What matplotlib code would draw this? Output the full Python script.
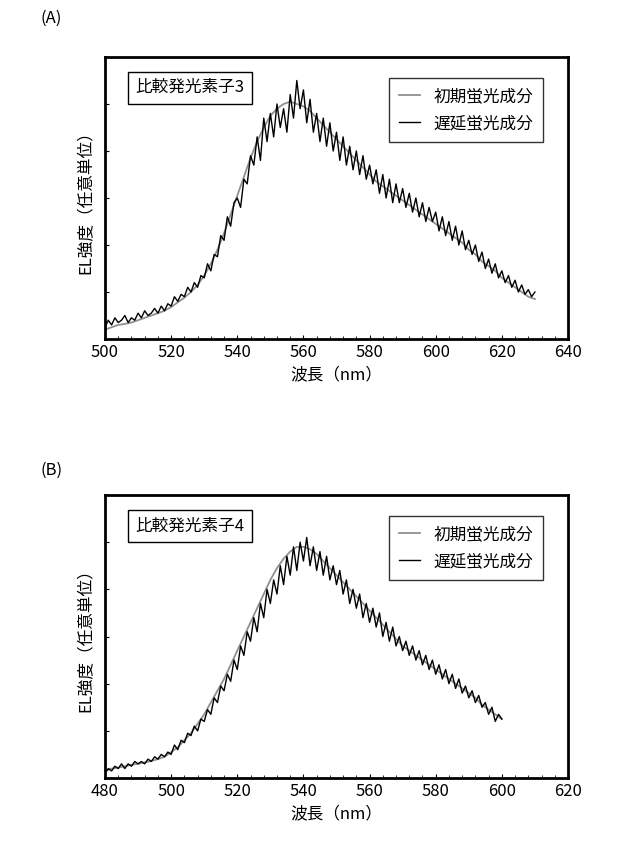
import numpy as np
import matplotlib
matplotlib.use("Agg")
import matplotlib.pyplot as plt
from matplotlib.ticker import MultipleLocator

plt.rcParams["font.family"] = "Noto Sans CJK JP"

# Panel A: 比較発光素子3
wl_a_delayed = np.arange(500, 631, 1)
delayed_a = [
    0.25, 0.4, 0.3, 0.45, 0.35, 0.4, 0.5, 0.35, 0.45, 0.4,
    0.55, 0.45, 0.6, 0.5, 0.55, 0.65, 0.55, 0.7, 0.6, 0.75,
    0.7, 0.9, 0.8, 0.95, 0.9, 1.1, 1.0, 1.2, 1.1, 1.35,
    1.3, 1.6, 1.45, 1.8, 1.75, 2.2, 2.1, 2.6, 2.4, 2.9,
    3.0, 2.8, 3.4, 3.3, 3.9, 3.7, 4.3, 3.8, 4.7, 4.2,
    4.8, 4.3, 5.0, 4.5, 4.9, 4.4, 5.2, 4.7, 5.5, 4.9,
    5.3, 4.6, 5.1, 4.4, 4.8, 4.2, 4.7, 4.1, 4.6, 4.0,
    4.4, 3.8, 4.3, 3.7, 4.1, 3.6, 4.0, 3.5, 3.9, 3.4,
    3.7, 3.3, 3.6, 3.1, 3.5, 3.0, 3.4, 2.9, 3.3, 2.9,
    3.2, 2.8, 3.1, 2.7, 3.0, 2.6, 2.9, 2.5, 2.8, 2.5,
    2.7, 2.3, 2.6, 2.2, 2.5, 2.1, 2.4, 2.0, 2.3, 1.9,
    2.1, 1.8, 2.0, 1.65, 1.85, 1.5, 1.7, 1.4, 1.6, 1.3,
    1.45, 1.2, 1.35, 1.1, 1.25, 1.0, 1.15, 0.95, 1.05, 0.9,
    1.0,
]
wl_a_prompt = np.arange(500, 631, 2)
prompt_a = [
    0.2, 0.25, 0.3, 0.32, 0.35, 0.4, 0.45, 0.5, 0.55, 0.6,
    0.68, 0.78, 0.88, 1.0, 1.15, 1.35, 1.6, 1.9, 2.25, 2.65,
    3.05, 3.45, 3.85, 4.2, 4.5, 4.75, 4.9, 5.0, 5.05, 5.0,
    4.95, 4.85, 4.7, 4.55, 4.4, 4.25, 4.1, 3.95, 3.8, 3.65,
    3.5, 3.35, 3.25, 3.15, 3.05, 2.95, 2.85, 2.75, 2.65, 2.55,
    2.45, 2.35, 2.25, 2.15, 2.05, 1.9, 1.8, 1.65, 1.55, 1.45,
    1.3, 1.2, 1.1, 1.0, 0.9,
    0.85,
]

# Panel B: 比較発光素子4
wl_b_delayed = np.arange(480, 601, 1)
delayed_b = [
    0.1, 0.2, 0.15, 0.25, 0.2, 0.3, 0.2, 0.3, 0.25, 0.35,
    0.3, 0.35, 0.3, 0.4, 0.35, 0.45, 0.4, 0.5, 0.45, 0.55,
    0.5, 0.7, 0.6, 0.8, 0.75, 0.95, 0.9, 1.1, 1.0, 1.25,
    1.2, 1.45, 1.35, 1.7, 1.6, 1.95, 1.85, 2.2, 2.05, 2.5,
    2.3, 2.8, 2.6, 3.1, 2.9, 3.4, 3.1, 3.7, 3.4, 4.0,
    3.7, 4.2, 3.9, 4.5, 4.1, 4.7, 4.3, 4.9, 4.4, 5.0,
    4.6, 5.1, 4.5, 4.9, 4.4, 4.8, 4.3, 4.7, 4.2, 4.5,
    4.1, 4.4, 3.9, 4.2, 3.7, 4.0, 3.6, 3.9, 3.4, 3.7,
    3.3, 3.6, 3.2, 3.5, 3.0, 3.3, 2.9, 3.2, 2.8, 3.0,
    2.7, 2.9, 2.6, 2.8, 2.5, 2.7, 2.4, 2.6, 2.3, 2.5,
    2.2, 2.4, 2.1, 2.3, 2.0, 2.2, 1.9, 2.1, 1.8, 1.95,
    1.7, 1.85, 1.6, 1.75, 1.5, 1.6, 1.35, 1.5, 1.2, 1.35,
    1.25,
]
wl_b_prompt = np.arange(480, 601, 2)
prompt_b = [
    0.15, 0.2, 0.22, 0.25, 0.28, 0.3, 0.33, 0.36, 0.4, 0.45,
    0.55, 0.65, 0.8, 0.95, 1.15, 1.35, 1.6, 1.85, 2.1, 2.4,
    2.7, 3.0, 3.3, 3.6, 3.9, 4.2, 4.45, 4.65, 4.8, 4.9,
    4.9, 4.85, 4.75, 4.6, 4.45, 4.3, 4.15, 4.0, 3.85, 3.7,
    3.55, 3.4, 3.25, 3.1, 2.95, 2.8, 2.7, 2.6, 2.5, 2.4,
    2.3, 2.2, 2.1, 2.0, 1.9, 1.8, 1.7, 1.55, 1.45, 1.35,
    1.25,
]

panels = [
    ("(A)", "比較発光素子3", wl_a_prompt, prompt_a, wl_a_delayed, delayed_a, (500, 640),
     [105 / 640, 1 - 339 / 867, 463 / 640, 282 / 867], 1 - 18 / 867),
    ("(B)", "比較発光素子4", wl_b_prompt, prompt_b, wl_b_delayed, delayed_b, (480, 620),
     [105 / 640, 1 - 778 / 867, 463 / 640, 283 / 867], 1 - 470 / 867),
]

fig = plt.figure(figsize=(6.4, 8.67), dpi=100)
for tag, name, wp, yp, wd, yd, xlim, rect, tag_y in panels:
    ax = fig.add_axes(rect)
    ax.plot(wp, yp, color="#909090", lw=1.3, label="初期蛍光成分")
    ax.plot(wd, yd, color="black", lw=1.0, label="遅延蛍光成分")
    ax.set_xlim(*xlim)
    ax.set_ylim(0, 6)
    ax.xaxis.set_major_locator(MultipleLocator(20))
    ax.xaxis.set_minor_locator(MultipleLocator(4))
    ax.yaxis.set_major_locator(MultipleLocator(1))
    ax.set_yticklabels([])
    ax.tick_params(direction="in", length=3, labelsize=12)
    ax.tick_params(which="minor", direction="in", length=2)
    for s in ax.spines.values():
        s.set_linewidth(2)
    ax.set_xlabel("波長（nm）", fontsize=12)
    ax.set_ylabel("EL強度（任意単位）", fontsize=12)
    leg = ax.legend(loc="upper right", bbox_to_anchor=(0.965, 0.955), fontsize=12,
                    fancybox=False, edgecolor="black", handlelength=1.3,
                    borderpad=0.6, labelspacing=0.6)
    leg.get_frame().set_linewidth(1.0)
    ax.text(0.065, 0.875, name, transform=ax.transAxes, fontsize=12,
            bbox=dict(boxstyle="square,pad=0.45", fc="white", ec="black", lw=1.0))
    fig.text(40 / 640, tag_y, tag, fontsize=12, va="center")

fig.savefig("out.png", dpi=100)
